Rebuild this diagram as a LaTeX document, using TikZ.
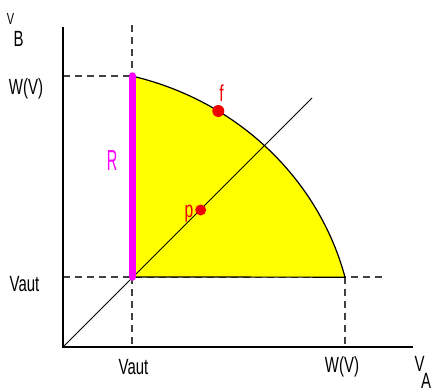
\documentclass[tikz,border=0pt]{standalone}
\usepackage{fontspec}
\usetikzlibrary{calc}
\newfontfamily\nar[FakeStretch=0.68]{Liberation Sans}
\newfontfamily\narR[FakeStretch=0.5]{Liberation Sans}
\definecolor{yel}{HTML}{FFFF00}
\definecolor{mag}{HTML}{FF00FF}
\definecolor{dotred}{HTML}{EE0000}
\begin{document}
\begin{tikzpicture}[x=1pt,y=-1pt,
  axis/.style={black, line width=1.4pt},
  guide/.style={black!75, line width=1.3pt, dash pattern=on 7pt off 5pt},
  lbl/.style={inner sep=0pt, font=\nar\fontsize{22}{22}\selectfont},
  dotnode/.style={circle, fill=dotred, inner sep=0pt, minimum size=11pt},
  redlbl/.style={inner sep=0pt, text=dotred, font=\nar\fontsize{23}{23}\selectfont}]
\useasboundingbox (0,0) rectangle (431,388);
% coordinates
\coordinate (O) at (63,347);
\coordinate (ytop) at (63,27);
\coordinate (xend) at (413,347);
\coordinate (c) at (132.5,277);
\coordinate (top) at (132.5,76);
\coordinate (rgt) at (345,277);
\coordinate (yW) at (63,76);
\coordinate (yV) at (63,277);
\coordinate (hend) at (386,277);
\coordinate (vtop) at (132,25);
\coordinate (vbot) at (132,347);
\coordinate (wbot) at (345,347);
\coordinate (dend) at (312,98);
% guides
\draw[guide] (yW) -- (top);
\draw[guide] (yV) -- (hend);
\draw[guide] (vtop) -- (vbot);
\draw[guide] (rgt) -- (wbot);
% region
\fill[yel] (c) -- (top) -- plot[domain=76.3:14.5,samples=80] ({63+291.3*cos(\x)},{347-278.9*sin(\x)}) -- cycle;
\draw[black, line width=1.2pt] (top) -- plot[domain=76.3:14.5,samples=80] ({63+291.3*cos(\x)},{347-278.9*sin(\x)}) -- (c);
% diagonal
\draw[black, line width=1pt] (O) -- (dend);
% axes
\draw[axis] (ytop) -- (O) -- (xend);
% magenta bar
\draw[mag, line width=7.5pt, line cap=round] (c) -- (top);
% dots
\node[dotnode] (p) at (200.7,210) {};
\node[dotnode, minimum size=12pt] (f) at (218.3,111) {};
% labels
\node[redlbl] (plbl) at (189,213.5) {p};
\node[redlbl] (flbl) at (221.5,93.5) {f};
\node[inner sep=0pt, text=mag, font=\narR\fontsize{29}{29}\selectfont] (R) at (112,160.5) {R};
\node[lbl] (WVl) at (26,88.5) {W(V)};
\node[lbl] (Vautl) at (24.5,284.5) {Vaut};
\node[lbl] (Vautb) at (133.5,367) {Vaut};
\node[lbl] (WVb) at (342,367) {W(V)};
\node[inner sep=0pt, font=\nar\fontsize{16}{16}\selectfont] (VB) at (10.5,19) {V};
\node[lbl] (B) at (18.5,38.5) {B};
\node[lbl] (VA) at (419.5,364) {V};
\node[lbl] (A) at (426,381) {A};
\end{tikzpicture}
\end{document}
